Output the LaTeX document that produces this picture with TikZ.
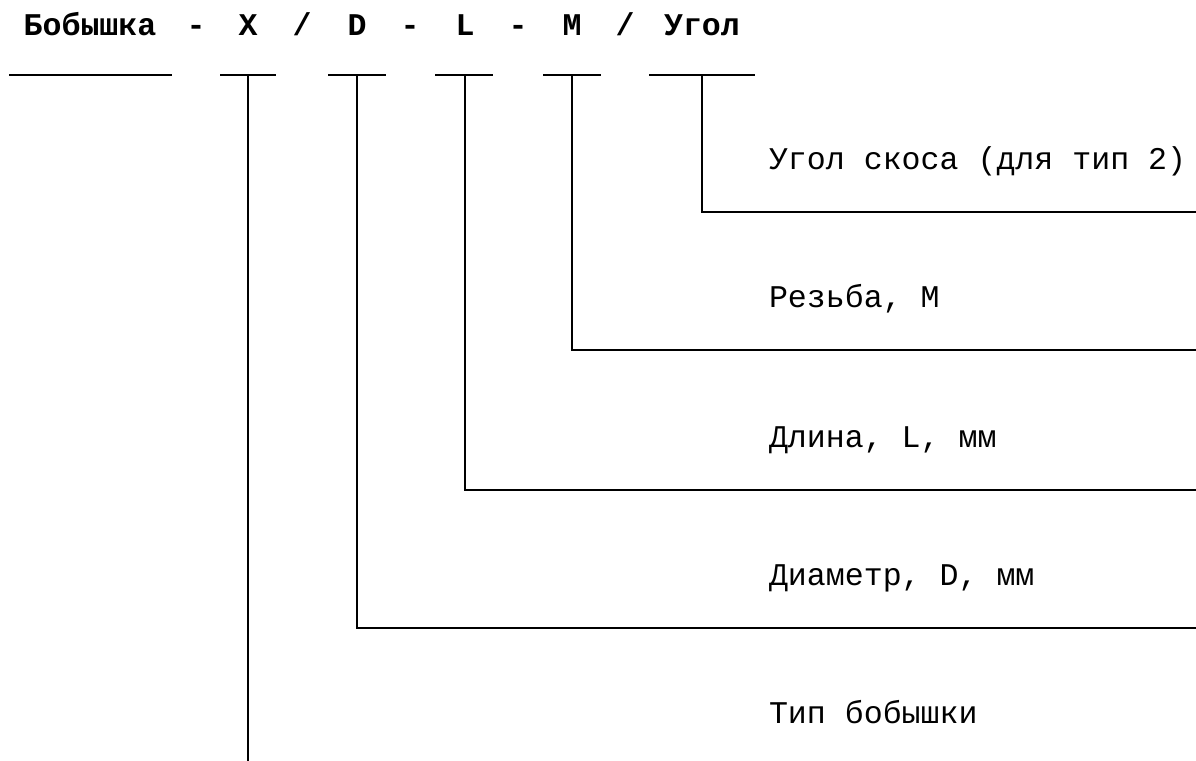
\documentclass[tikz,border=0pt]{standalone}
\usepackage{fontspec}
\setmonofont{Liberation Mono}

\begin{document}
\begin{tikzpicture}[x=0.5pt,y=-0.5pt,line width=1pt,
		every node/.style={inner sep=0pt,font=\ttfamily\fontsize{15.8}{18}\selectfont},
		head/.style={anchor=base,font=\ttfamily\bfseries\fontsize{15.8}{18}\selectfont},
		lbl/.style={anchor=base west}]
		\useasboundingbox (0,0) rectangle (1196,761);
		
		% designation
		\foreach \name/\xpos/\txt in {
			tName/90/Бобышка, sA/196/-, tX/248/X, sB/302/{/}, tD/357/D,
			sC/410/-, tL/465/L, sD/518/-, tM/572/M, sE/625/{/}, tAng/702/Угол}
		\node[head] (\name) at (\xpos,35) {\txt};
		
		\coordinate (line) at (0,75);
		\foreach \name/\xa/\xb in {
			tName/9/172, tX/220/276, tD/328/386,
			tL/435/493, tM/543/601, tAng/649/755}{
			\draw (\xa,75) -- (\xb,75);
			\coordinate (u\name) at (\name |- line);
		}
		
		% labels
		\node[lbl] (lAng) at (768,169) {Угол скоса (для тип 2)};
		\node[lbl] (lM) at (768,307) {Резьба, М};
		\node[lbl] (lL) at (768,447) {Длина, L, мм};
		\node[lbl] (lD) at (768,585) {Диаметр, D, мм};
		\node[lbl] (lX) at (768,723) {Тип бобышки};
		
		\coordinate (eAng) at (1196,212);
		\coordinate (eM) at (1196,350);
		\coordinate (eL) at (1196,490);
		\coordinate (eD) at (1196,628);
		\coordinate (eX) at (248,761);
		
		\draw (utAng) |- (eAng);
		\draw (utM) |- (eM);
		\draw (utL) |- (eL);
		\draw (utD) |- (eD);
		\draw (utX) -- (eX);
	\end{tikzpicture}
\end{document}
